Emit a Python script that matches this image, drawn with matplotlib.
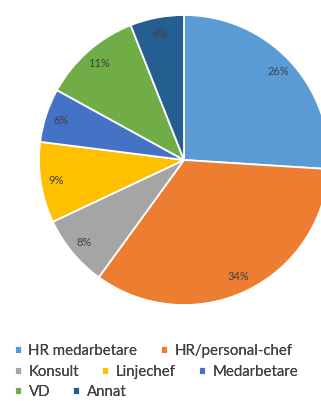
import matplotlib.pyplot as plt

# Survey answers: role of the respondent
categories = ["HR medarbetare", "HR/personal-chef", "Konsult", "Linjechef",
              "Medarbetare", "VD", "Annat"]
shares = [26, 34, 8, 9, 6, 11, 6]
colors = ["#5B9BD5", "#ED7D31", "#A5A5A5", "#FFC000", "#4472C4", "#70AD47", "#255E91"]

W, H = 321, 401
fig = plt.figure(figsize=(W / 100, H / 100), dpi=100)
fig.patch.set_facecolor("white")

# pie centre (184, 160) px, radius 145 px
cx, cy, r = 184, 160, 145
ax = fig.add_axes([(cx - r) / W, (H - cy - r) / H, 2 * r / W, 2 * r / H])
wedges, texts, autotexts = ax.pie(
    shares,
    colors=colors,
    startangle=90,
    counterclock=False,
    autopct=lambda p: f"{p:.0f}%",
    pctdistance=0.89,
    wedgeprops=dict(edgecolor="white", linewidth=1.3),
    textprops=dict(color="#404040", fontsize=8, family="Lato"),
)
ax.set_xlim(-1, 1)
ax.set_ylim(-1, 1)
ax.set_aspect("auto")
ax.axis("off")

# Legend laid out in rows, the way the spreadsheet flows it
rows = [[0, 1], [2, 3, 4], [5, 6]]
row_y = [351, 372, 392]
for idx, y in zip(rows, row_y):
    leg = fig.legend(
        [wedges[i] for i in idx],
        [categories[i] for i in idx],
        loc="center left",
        bbox_to_anchor=(15 / W, 1 - y / H),
        ncol=len(idx),
        frameon=False,
        handlelength=0.45,
        handleheight=0.45,
        handletextpad=0.45,
        columnspacing=1.55,
        borderpad=0,
        borderaxespad=0,
        prop=dict(family="Lato", size=10.8),
    )
    for t in leg.get_texts():
        t.set_color("#404040")
    fig.add_artist(leg)

fig.savefig("out.png", dpi=100)
